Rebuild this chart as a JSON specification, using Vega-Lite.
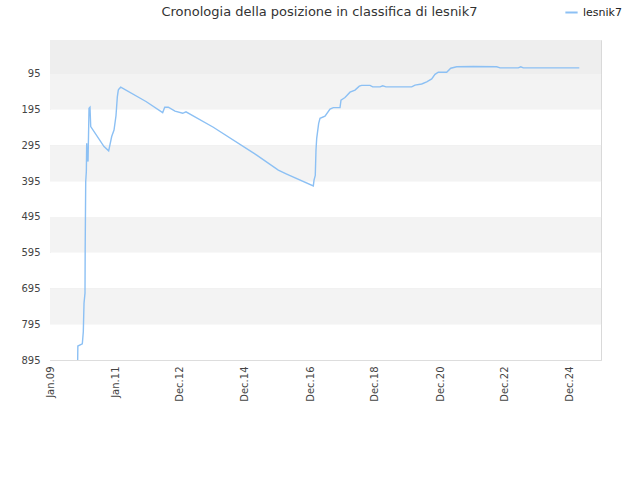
{
  "$schema": "https://vega.github.io/schema/vega-lite/v6.json",
  "width": 551,
  "height": 320,
  "autosize": {"type": "none"},
  "padding": {"left": 50, "top": 40, "right": 39, "bottom": 120},
  "background": "white",
  "config": {
    "font": "DejaVu Sans",
    "view": {"stroke": "#d9d9d9", "strokeWidth": 1},
    "axisY": {
      "title": null,
      "grid": true,
      "gridColor": "#dddddd",
      "domain": false,
      "ticks": false,
      "labelOverlap": false,
      "labelPadding": 10,
      "labelFontSize": 10,
      "labelColor": "#444444",
      "zindex": 1
    }
  },
  "title": {
    "text": "Cronologia della posizione in classifica di lesnik7",
    "fontSize": 13,
    "fontWeight": "normal",
    "color": "#333333",
    "anchor": "middle",
    "dx": -6,
    "offset": -14
  },
  "datasets": {
    "bands": [
      {"lo": 0, "hi": 95, "shade": "top"},
      {"lo": 95, "hi": 195, "shade": "grey"},
      {"lo": 195, "hi": 295, "shade": "white"},
      {"lo": 295, "hi": 395, "shade": "grey"},
      {"lo": 395, "hi": 495, "shade": "white"},
      {"lo": 495, "hi": 595, "shade": "grey"},
      {"lo": 595, "hi": 695, "shade": "white"},
      {"lo": 695, "hi": 795, "shade": "grey"},
      {"lo": 795, "hi": 895, "shade": "white"}
    ],
    "ranks": [
      {"date": "2009-11-16", "rank": 895, "player": "lesnik7"},
      {"date": "2009-11-18", "rank": 856, "player": "lesnik7"},
      {"date": "2010-01-07", "rank": 850, "player": "lesnik7"},
      {"date": "2010-01-18", "rank": 816, "player": "lesnik7"},
      {"date": "2010-01-26", "rank": 736, "player": "lesnik7"},
      {"date": "2010-02-06", "rank": 708, "player": "lesnik7"},
      {"date": "2010-02-08", "rank": 587, "player": "lesnik7"},
      {"date": "2010-02-14", "rank": 396, "player": "lesnik7"},
      {"date": "2010-02-21", "rank": 368, "player": "lesnik7"},
      {"date": "2010-02-25", "rank": 289, "player": "lesnik7"},
      {"date": "2010-03-04", "rank": 330, "player": "lesnik7"},
      {"date": "2010-03-12", "rank": 340, "player": "lesnik7"},
      {"date": "2010-03-23", "rank": 191, "player": "lesnik7"},
      {"date": "2010-04-03", "rank": 188, "player": "lesnik7"},
      {"date": "2010-04-11", "rank": 242, "player": "lesnik7"},
      {"date": "2010-09-07", "rank": 298, "player": "lesnik7"},
      {"date": "2010-10-29", "rank": 310, "player": "lesnik7"},
      {"date": "2010-12-02", "rank": 270, "player": "lesnik7"},
      {"date": "2010-12-28", "rank": 252, "player": "lesnik7"},
      {"date": "2011-01-19", "rank": 212, "player": "lesnik7"},
      {"date": "2011-02-03", "rank": 159, "player": "lesnik7"},
      {"date": "2011-02-14", "rank": 140, "player": "lesnik7"},
      {"date": "2011-02-22", "rank": 137, "player": "lesnik7"},
      {"date": "2011-03-13", "rank": 132, "player": "lesnik7"},
      {"date": "2011-12-21", "rank": 172, "player": "lesnik7"},
      {"date": "2012-06-25", "rank": 203, "player": "lesnik7"},
      {"date": "2012-07-18", "rank": 188, "player": "lesnik7"},
      {"date": "2012-08-27", "rank": 188, "player": "lesnik7"},
      {"date": "2012-11-10", "rank": 199, "player": "lesnik7"},
      {"date": "2013-02-04", "rank": 205, "player": "lesnik7"},
      {"date": "2013-03-13", "rank": 201, "player": "lesnik7"},
      {"date": "2014-01-13", "rank": 244, "player": "lesnik7"},
      {"date": "2015-05-14", "rank": 322, "player": "lesnik7"},
      {"date": "2016-01-11", "rank": 364, "player": "lesnik7"},
      {"date": "2016-04-14", "rank": 375, "player": "lesnik7"},
      {"date": "2017-02-06", "rank": 408, "player": "lesnik7"},
      {"date": "2017-02-14", "rank": 392, "player": "lesnik7"},
      {"date": "2017-02-28", "rank": 379, "player": "lesnik7"},
      {"date": "2017-03-08", "rank": 308, "player": "lesnik7"},
      {"date": "2017-03-16", "rank": 275, "player": "lesnik7"},
      {"date": "2017-04-07", "rank": 233, "player": "lesnik7"},
      {"date": "2017-04-22", "rank": 219, "player": "lesnik7"},
      {"date": "2017-06-17", "rank": 213, "player": "lesnik7"},
      {"date": "2017-08-12", "rank": 193, "player": "lesnik7"},
      {"date": "2017-09-18", "rank": 189, "player": "lesnik7"},
      {"date": "2017-12-02", "rank": 189, "player": "lesnik7"},
      {"date": "2017-12-13", "rank": 168, "player": "lesnik7"},
      {"date": "2018-01-27", "rank": 161, "player": "lesnik7"},
      {"date": "2018-03-24", "rank": 146, "player": "lesnik7"},
      {"date": "2018-05-19", "rank": 140, "player": "lesnik7"},
      {"date": "2018-07-06", "rank": 129, "player": "lesnik7"},
      {"date": "2018-08-02", "rank": 127, "player": "lesnik7"},
      {"date": "2018-11-03", "rank": 127, "player": "lesnik7"},
      {"date": "2018-12-03", "rank": 131, "player": "lesnik7"},
      {"date": "2019-02-23", "rank": 131, "player": "lesnik7"},
      {"date": "2019-03-25", "rank": 128, "player": "lesnik7"},
      {"date": "2019-05-01", "rank": 131, "player": "lesnik7"},
      {"date": "2020-02-13", "rank": 131, "player": "lesnik7"},
      {"date": "2020-03-21", "rank": 126, "player": "lesnik7"},
      {"date": "2020-06-04", "rank": 123, "player": "lesnik7"},
      {"date": "2020-07-30", "rank": 117, "player": "lesnik7"},
      {"date": "2020-09-24", "rank": 109, "player": "lesnik7"},
      {"date": "2020-10-31", "rank": 96, "player": "lesnik7"},
      {"date": "2020-12-07", "rank": 90, "player": "lesnik7"},
      {"date": "2021-03-11", "rank": 90, "player": "lesnik7"},
      {"date": "2021-04-25", "rank": 79, "player": "lesnik7"},
      {"date": "2021-07-01", "rank": 75, "player": "lesnik7"},
      {"date": "2022-01-03", "rank": 74, "player": "lesnik7"},
      {"date": "2022-09-22", "rank": 75, "player": "lesnik7"},
      {"date": "2022-10-29", "rank": 78, "player": "lesnik7"},
      {"date": "2023-05-22", "rank": 78, "player": "lesnik7"},
      {"date": "2023-06-18", "rank": 75, "player": "lesnik7"},
      {"date": "2023-07-17", "rank": 78, "player": "lesnik7"},
      {"date": "2025-04-04", "rank": 78, "player": "lesnik7"}
    ]
  },
  "layer": [
    {
      "data": {"name": "bands"},
      "mark": {"type": "rect", "strokeWidth": 0},
      "encoding": {
        "y": {
          "field": "lo",
          "type": "quantitative",
          "scale": {"domain": [0, 895], "reverse": true, "nice": false, "zero": false},
          "axis": {"values": [95, 195, 295, 395, 495, 595, 695, 795, 895]}
        },
        "y2": {"field": "hi"},
        "fill": {
          "field": "shade",
          "type": "nominal",
          "scale": {"domain": ["top", "grey", "white"], "range": ["#eeeeee", "#f3f3f3", "#ffffff"]},
          "legend": null
        }
      }
    },
    {
      "data": {"name": "ranks"},
      "mark": {"type": "line", "strokeWidth": 1.4, "interpolate": "linear"},
      "encoding": {
        "x": {
          "field": "date",
          "type": "temporal",
          "scale": {
            "type": "utc",
            "domain": [
              {"year": 2009, "month": 1, "date": 10, "utc": true},
              {"year": 2025, "month": 12, "date": 3, "utc": true}
            ]
          },
          "axis": {
            "title": null,
            "grid": false,
            "domain": false,
            "ticks": false,
            "labelExpr": "utcFormat(datum.value, '%b.%y')",
            "labelAngle": 270,
            "labelAlign": "right",
            "labelBaseline": "middle",
            "labelPadding": 6,
            "labelFontSize": 10,
            "labelColor": "#444444",
            "labelOverlap": false,
            "values": [
              {"year": 2009, "month": 1, "date": 10, "utc": true},
              {"year": 2011, "month": 1, "date": 11, "utc": true},
              {"year": 2012, "month": 12, "date": 31, "utc": true},
              {"year": 2014, "month": 12, "date": 27, "utc": true},
              {"year": 2016, "month": 12, "date": 31, "utc": true},
              {"year": 2018, "month": 12, "date": 22, "utc": true},
              {"year": 2020, "month": 12, "date": 26, "utc": true},
              {"year": 2022, "month": 12, "date": 22, "utc": true},
              {"year": 2024, "month": 12, "date": 16, "utc": true}
            ]
          }
        },
        "y": {
          "field": "rank",
          "type": "quantitative",
          "axis": {"values": [95, 195, 295, 395, 495, 595, 695, 795, 895]}
        },
        "color": {
          "field": "player",
          "type": "nominal",
          "scale": {"range": ["#8cc0f4"]},
          "legend": {
            "title": null,
            "orient": "none",
            "legendX": 514,
            "legendY": -35,
            "symbolType": "stroke",
            "symbolSize": 150,
            "symbolStrokeWidth": 2,
            "labelFontSize": 11,
            "labelColor": "#222222"
          }
        }
      }
    }
  ]
}
